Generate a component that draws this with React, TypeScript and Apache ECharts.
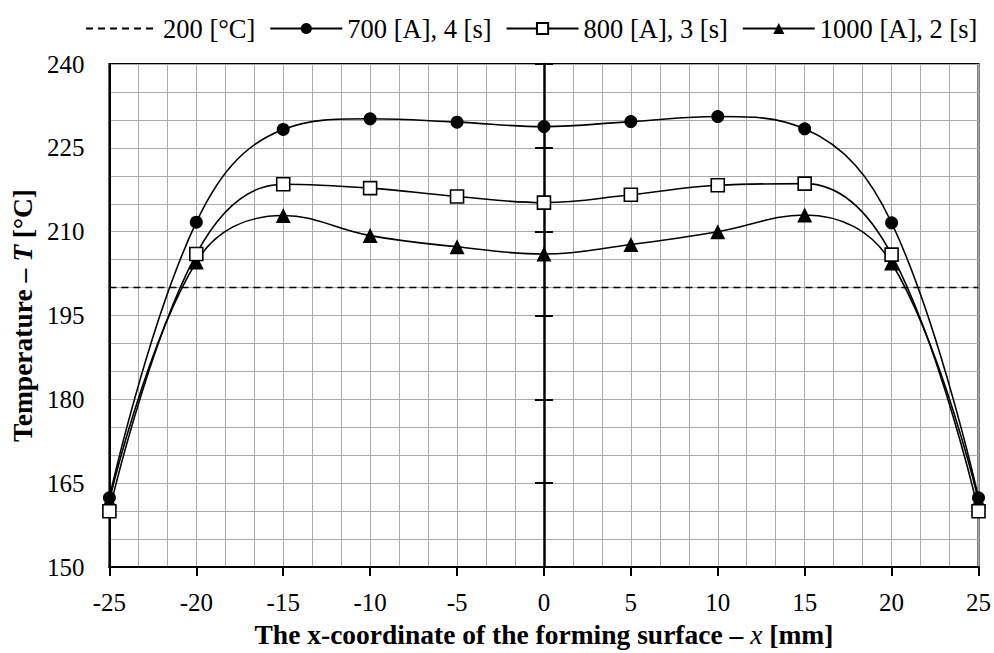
import React, { useEffect, useRef } from "react";
import * as echarts from "echarts";

const xValues = [-25, -20, -15, -10, -5, 0, 5, 10, 15, 20, 25];
const s700 = [162.4, 211.7, 228.3, 230.2, 229.6, 228.8, 229.7, 230.6, 228.4, 211.6, 162.4];
const s800 = [160.0, 206.0, 218.5, 217.8, 216.3, 215.2, 216.6, 218.3, 218.6, 205.9, 160.0];
const s1000 = [161.9, 204.6, 212.9, 209.3, 207.3, 206.0, 207.7, 210.0, 213.0, 204.4, 161.9];
const refX = [-25, 25];
const refY = [200, 200];
const seriesNames = ["200 [°C]", "700 [A], 4 [s]", "800 [A], 3 [s]", "1000 [A], 2 [s]"];

const FONT = "'Liberation Serif', 'Times New Roman', serif";

function pairs(xs: number[], ys: number[]) {
  return xs.map((x, i) => [x, ys[i]]);
}

export default function App() {
  const ref = useRef<HTMLDivElement>(null);
  useEffect(() => {
    if (!ref.current) return;
    const chart = echarts.init(ref.current, undefined, { renderer: "svg" });
    const grid = "#aaaaaa";
    const lineBase = { color: "#000", width: 1.6 };
    chart.setOption({
      animation: false,
      backgroundColor: "#fff",
      textStyle: { fontFamily: FONT, color: "#000" },
      legend: {
        top: 10,
        left: 80,
        itemWidth: 72,
        itemHeight: 14,
        itemGap: 14,
        textStyle: { fontFamily: FONT, fontSize: 26.5, color: "#000" },
        data: [
          { name: seriesNames[0], itemStyle: { opacity: 0 } },
          seriesNames[1],
          seriesNames[2],
          seriesNames[3],
        ],
      },
      grid: {
        left: 107,
        right: 15,
        top: 64,
        bottom: 83,
        show: true,
        borderColor: "#000",
        borderWidth: 2,
        containLabel: false,
      },
      xAxis: {
        type: "value",
        min: -25,
        max: 25,
        interval: 5,
        name: "The x-coordinate of the forming surface – {i|x} [mm]",
        nameLocation: "middle",
        nameGap: 52,
        nameTextStyle: {
          fontFamily: FONT,
          fontSize: 27.5,
          fontWeight: "bold",
          color: "#000",
          rich: { i: { fontFamily: FONT, fontSize: 27.5, fontStyle: "italic", fontWeight: "normal", color: "#000" } },
        },
        axisLine: { show: true, onZero: false, lineStyle: { color: "#000", width: 2 } },
        axisTick: { show: true, inside: false, length: 9, lineStyle: { color: "#000", width: 2 } },
        axisLabel: { fontFamily: FONT, fontSize: 25, color: "#000", margin: 23 },
        splitLine: { show: true, lineStyle: { color: grid, width: 1 } },
        minorTick: { show: false, splitNumber: 3 },
        minorSplitLine: { show: true, lineStyle: { color: grid, width: 1 } },
      },
      yAxis: [
        {
          type: "value",
          min: 150,
          max: 240,
          interval: 15,
          position: "left",
          name: "Temperature – {i|T} [°C]",
          nameLocation: "middle",
          nameGap: 70,
          nameTextStyle: {
            fontFamily: FONT,
            fontSize: 27.5,
            fontWeight: "bold",
            color: "#000",
            rich: { i: { fontFamily: FONT, fontSize: 27.5, fontStyle: "italic", fontWeight: "bold", color: "#000" } },
          },
          axisLine: { show: true, onZero: false, lineStyle: { color: "#000", width: 2 } },
          axisTick: { show: false },
          axisLabel: { fontFamily: FONT, fontSize: 25, color: "#000", margin: 25 },
          splitLine: { show: true, lineStyle: { color: grid, width: 1 } },
          minorTick: { show: false, splitNumber: 3 },
          minorSplitLine: { show: true, lineStyle: { color: grid, width: 1 } },
        },
        {
          type: "value",
          min: 150,
          max: 240,
          interval: 15,
          position: "left",
          axisLine: { show: true, onZero: true, onZeroAxisIndex: 0, lineStyle: { color: "#000", width: 2.5 } },
          axisTick: { show: true, inside: false, length: 9, lineStyle: { color: "#000", width: 2 } },
          axisLabel: { show: false },
          splitLine: { show: false },
        },
        {
          type: "value",
          min: 150,
          max: 240,
          interval: 15,
          position: "left",
          axisLine: { show: false, onZero: true, onZeroAxisIndex: 0 },
          axisTick: { show: true, inside: true, length: 9, lineStyle: { color: "#000", width: 2 } },
          axisLabel: { show: false },
          splitLine: { show: false },
        },
      ],
      series: [
        {
          name: seriesNames[0],
          type: "line",
          data: pairs(refX, refY),
          symbol: "none",
          lineStyle: { color: "#000", width: 1.5, type: [7, 5] },
          itemStyle: { color: "#000" },
          z: 3,
        },
        {
          name: seriesNames[1],
          type: "line",
          data: pairs(xValues, s700),
          smooth: 0.4,
          symbol: "circle",
          symbolSize: 13,
          lineStyle: lineBase,
          itemStyle: { color: "#000" },
          z: 4,
        },
        {
          name: seriesNames[2],
          type: "line",
          data: pairs(xValues, s800),
          smooth: 0.4,
          symbol: "rect",
          symbolSize: 13,
          lineStyle: lineBase,
          itemStyle: { color: "#fff", borderColor: "#000", borderWidth: 1.6 },
          z: 5,
        },
        {
          name: seriesNames[3],
          type: "line",
          data: pairs(xValues, s1000),
          smooth: 0.4,
          symbol: "triangle",
          symbolSize: 15,
          lineStyle: lineBase,
          itemStyle: { color: "#000" },
          z: 4,
        },
      ],
    });
    return () => chart.dispose();
  }, []);
  return <div ref={ref} style={{ width: 994, height: 653, position: "absolute", left: 0, top: 0 }} />;
}
